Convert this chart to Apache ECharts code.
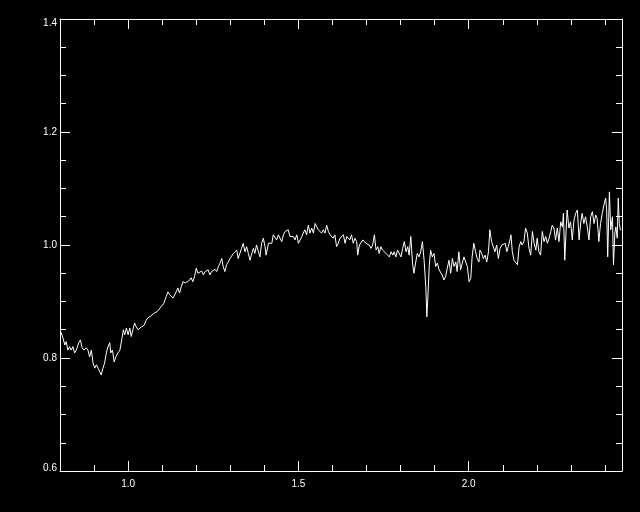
<!DOCTYPE html>
<html>
<head>
<meta charset="utf-8">
<script src="https://cdn.jsdelivr.net/npm/echarts@6/dist/echarts.min.js"></script>
<style>
html,body{margin:0;padding:0;background:#000;}
#chart{width:640px;height:512px;}
</style>
</head>
<body>
<div id="chart"></div>
<script>
// Wavelength (x) values
const wavelength = [
0.802,0.809,0.814,0.818,0.823,0.828,0.833,0.838,0.843,0.848,0.855,0.860,0.865,0.870,0.877,0.882,0.887,0.892,0.897,0.902,
0.907,0.912,0.917,0.921,0.926,0.931,0.936,0.941,0.946,0.949,0.954,0.959,0.964,0.970,0.976,0.982,0.986,0.990,0.995,1.000,
1.005,1.009,1.014,1.019,1.024,1.029,1.034,1.039,1.047,1.053,1.058,1.063,1.070,1.078,1.085,1.090,1.097,1.105,1.112,1.117,
1.122,1.127,1.132,1.137,1.141,1.146,1.151,1.156,1.161,1.168,1.174,1.181,1.185,1.190,1.195,1.200,1.205,1.210,
1.216,1.221,1.226,1.231,1.235,1.240,1.245,1.250,1.255,1.260,1.265,1.270,1.275,1.279,1.284,1.289,1.294,1.299,1.304,1.309,
1.314,1.319,1.323,1.328,1.333,1.338,1.343,1.348,1.353,1.358,1.363,1.368,1.372,1.377,1.382,1.387,1.392,1.397,1.402,1.405,
1.412,1.417,1.422,1.426,1.431,1.436,1.441,1.446,1.451,1.456,1.461,1.466,1.470,1.475,1.480,1.485,1.490,1.495,1.500,1.505,
1.510,1.514,1.519,1.524,1.529,1.534,1.539,1.544,1.549,1.554,1.558,1.563,1.568,1.573,1.578,1.583,1.588,1.593,1.598,1.602,
1.607,1.612,1.617,1.622,
1.627,1.632,1.637,1.642,1.646,1.651,1.656,1.661,1.666,1.671,1.674,1.679,1.684,1.689,1.693,1.698,1.703,1.708,1.713,1.718,
1.723,1.728,1.733,1.737,1.742,1.747,1.752,1.757,1.762,1.767,1.772,1.777,1.781,1.786,1.791,1.796,1.801,1.806,1.811,1.816,
1.821,1.825,1.830,1.835,1.839,1.844,1.849,1.854,1.859,1.864,1.869,1.874,1.877,1.880,1.884,1.888,1.893,1.898,1.903,1.908,
1.913,1.918,1.922,1.927,1.932,1.937,1.942,1.947,1.952,1.957,1.962,1.966,1.971,1.976,1.981,1.986,1.991,1.996,2.001,2.006,
2.010,2.015,2.020,2.025,2.030,
2.033,2.038,2.043,2.048,2.053,2.058,2.062,2.067,2.072,2.077,2.082,2.087,2.092,2.097,2.102,2.107,2.112,2.116,2.121,2.124,
2.128,2.133,2.138,2.143,2.148,2.153,2.157,2.162,2.167,2.172,2.177,2.182,2.187,2.192,2.197,2.201,2.206,2.211,2.216,2.221,
2.226,2.231,2.236,2.241,2.245,2.250,2.255,2.260,2.265,2.270,2.275,2.278,2.282,2.286,2.289,2.294,2.299,2.304,2.309,2.314,
2.319,2.324,2.329,2.333,2.338,2.343,2.348,2.353,2.358,2.363,2.368,2.373,2.377,2.382,2.387,2.392,2.397,2.402,2.405,2.408,
2.413,2.417,2.422,2.425,2.429,2.432,2.436,2.439,2.442,2.445,2.448
];
// Normalised flux (y) values
const flux = [
0.847,0.835,0.823,0.829,0.814,0.820,0.814,0.820,0.809,0.814,0.827,0.832,0.818,0.814,0.818,0.814,0.802,0.814,0.791,0.782,
0.788,0.782,0.785,0.770,0.782,0.791,0.809,0.820,0.827,0.809,0.814,0.793,0.802,0.809,0.814,0.835,0.850,0.841,0.853,0.841,
0.853,0.838,0.850,0.862,0.855,0.850,0.853,0.855,0.858,0.867,0.871,0.873,0.876,0.880,0.882,0.885,0.891,0.897,0.909,0.917,
0.912,0.909,0.906,0.903,0.917,0.924,0.915,0.926,0.935,0.933,0.935,0.938,0.942,0.935,0.944,0.959,0.950,0.947,
0.954,0.947,0.953,0.950,0.956,0.947,0.953,0.950,0.957,0.953,0.962,0.968,0.976,0.962,0.953,0.965,0.970,0.976,0.979,0.985,
0.982,0.991,0.976,0.985,0.994,1.003,0.988,0.997,0.985,0.973,0.985,0.994,0.985,1.000,0.997,0.979,1.003,1.012,0.997,0.982,
1.003,1.006,1.003,1.018,1.021,1.009,1.018,1.021,1.006,1.018,1.024,1.021,1.027,1.015,1.012,1.015,1.009,1.018,1.003,1.009,
1.015,1.021,1.027,1.018,1.035,1.021,1.030,1.021,1.038,1.032,1.027,1.030,1.021,1.027,1.021,1.035,1.024,1.018,1.015,1.012,
1.018,0.997,1.003,1.012,
1.012,1.018,1.003,1.015,1.018,1.009,1.018,1.003,1.012,1.006,0.982,1.000,1.003,1.009,1.006,1.003,1.006,1.000,0.994,1.000,
1.018,0.991,0.997,0.985,0.997,0.991,0.994,0.985,0.988,0.979,0.988,0.982,0.988,0.979,0.991,0.988,0.979,0.994,1.006,0.988,
0.997,0.982,1.015,0.968,0.950,0.968,0.985,0.979,0.988,1.006,0.973,0.926,0.873,0.906,0.962,0.991,0.979,0.985,0.962,0.968,
0.956,0.959,0.947,0.938,0.944,0.959,0.973,0.950,0.976,0.962,0.970,0.953,0.988,0.956,0.968,0.979,0.970,0.962,0.935,0.941,
0.979,1.003,0.988,0.976,0.970,
0.991,0.985,0.976,0.982,0.970,0.988,1.027,1.006,1.009,0.988,1.000,0.976,0.994,1.000,0.997,1.003,0.988,0.997,1.009,1.018,
0.988,0.973,0.976,0.965,0.997,1.006,1.000,1.006,1.030,1.021,0.994,0.982,1.024,1.003,0.991,1.012,0.988,0.982,1.024,1.006,
1.015,1.003,1.012,1.024,1.035,1.030,1.009,1.030,1.006,1.041,1.032,1.056,0.973,1.027,1.062,1.030,1.041,1.009,1.044,1.056,
1.062,1.009,1.041,1.056,1.038,1.050,1.032,1.009,1.050,1.059,1.038,1.053,1.047,1.006,1.038,1.056,1.071,1.083,1.062,0.979,
1.094,1.027,1.050,0.965,1.021,1.032,1.012,1.083,1.038,1.027,1.027
];
const xMajorTicks = [1.0, 1.5, 2.0];
const xRange = [0.8, 2.45];
const yRange = [0.6, 1.4];

const data = wavelength.map((w, i) => [w, flux[i]]);

const white = '#ffffff';
const labelFont = { color: white, fontSize: 10, fontFamily: 'Liberation Sans' };

function xMajor(pos, showLabel) {
  return {
    type: 'value', position: pos, min: xRange[0], max: xRange[1],
    axisLine: { show: true, onZero: false, lineStyle: { color: white, width: 1 } },
    axisTick: { show: true, inside: true, length: 10, customValues: xMajorTicks, lineStyle: { color: white, width: 1 } },
    axisLabel: Object.assign({ show: showLabel, customValues: xMajorTicks, margin: 8, formatter: v => v.toFixed(1) }, labelFont),
    splitLine: { show: false }
  };
}
function xMinor(pos) {
  return {
    type: 'value', position: pos, min: xRange[0], max: xRange[1], interval: 0.1,
    axisLine: { show: false, onZero: false },
    axisTick: { show: true, inside: true, length: 6, lineStyle: { color: white, width: 1 } },
    axisLabel: { show: false },
    splitLine: { show: false }
  };
}
function yAxisDef(pos, showLabel) {
  return {
    type: 'value', position: pos, min: yRange[0], max: yRange[1], interval: 0.2,
    axisLine: { show: true, onZero: false, lineStyle: { color: white, width: 1 } },
    axisTick: { show: true, inside: true, length: 10, lineStyle: { color: white, width: 1 } },
    minorTick: { show: true, splitNumber: 4, length: 6, lineStyle: { color: white, width: 1 } },
    axisLabel: Object.assign({
      show: showLabel, margin: 3,
      formatter: v => {
        const s = v.toFixed(1);
        if (Math.abs(v - yRange[1]) < 1e-6) return '{t|' + s + '}';
        if (Math.abs(v - yRange[0]) < 1e-6) return '{b|' + s + '}';
        return s;
      },
      rich: {
        t: Object.assign({ padding: [8, 0, 0, 0] }, labelFont),
        b: Object.assign({ padding: [0, 0, 6, 0] }, labelFont)
      }
    }, labelFont),
    splitLine: { show: false }
  };
}

const chart = echarts.init(document.getElementById('chart'), null, { renderer: 'canvas' });
chart.setOption({
  backgroundColor: '#000000',
  animation: false,
  grid: { left: 60, right: 18, top: 19, bottom: 41, containLabel: false, outerBoundsMode: 'none', show: false },
  xAxis: [xMajor('bottom', true), xMinor('bottom'), xMajor('top', false), xMinor('top')],
  yAxis: [yAxisDef('left', true), yAxisDef('right', false)],
  series: [{
    type: 'line',
    xAxisIndex: 0, yAxisIndex: 0,
    data: data,
    showSymbol: false,
    symbol: 'none',
    lineStyle: { color: white, width: 1 },
    silent: true
  }]
});
</script>
</body>
</html>
